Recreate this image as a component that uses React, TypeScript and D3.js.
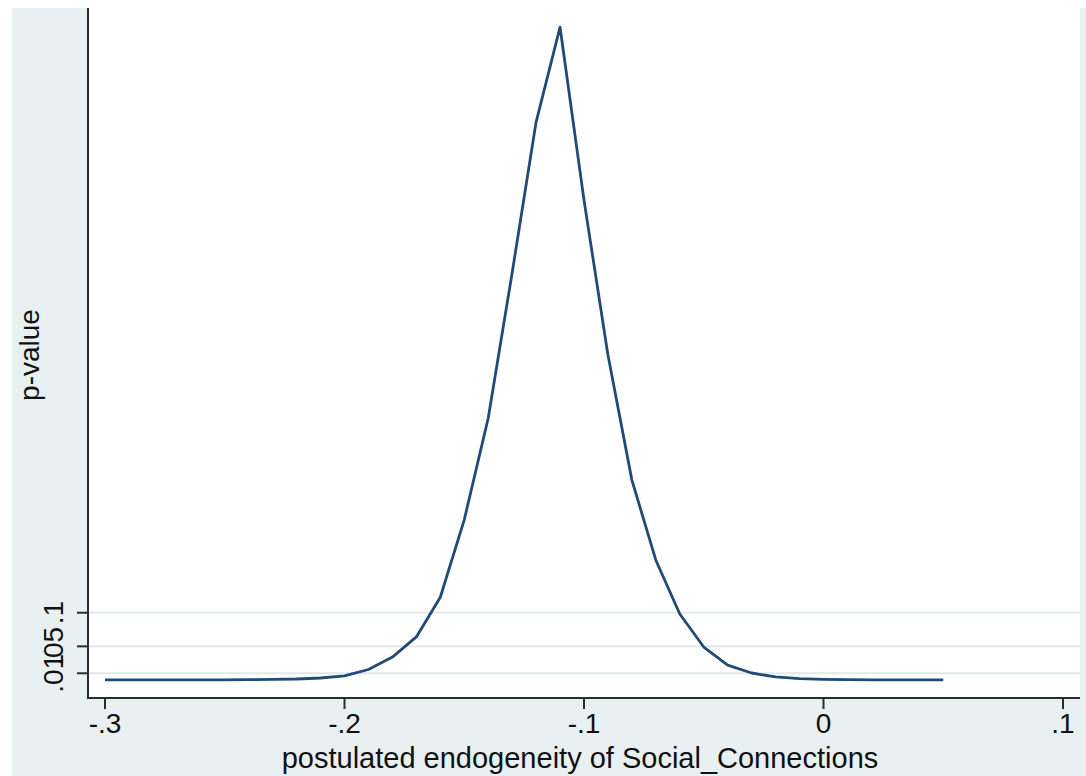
import * as d3 from 'd3';
import { useEffect, useRef } from 'react';

// postulated endogeneity grid (step .01) and the p-value
const endogeneity = [
  -0.3, -0.29, -0.28, -0.27, -0.26, -0.25, -0.24, -0.23, -0.22, -0.21,
  -0.2, -0.19, -0.18, -0.17, -0.16, -0.15, -0.14, -0.13, -0.12, -0.11,
  -0.1, -0.09, -0.08, -0.07, -0.06, -0.05, -0.04, -0.03, -0.02, -0.01,
  0, 0.01, 0.02, 0.03, 0.04, 0.05,
];
const pValues = [
  0.0001, 0.0001, 0.0001, 0.0002, 0.0002, 0.0003, 0.0005, 0.0008, 0.0015, 0.003,
  0.006, 0.0156, 0.034, 0.064, 0.123, 0.238, 0.389, 0.605, 0.829, 0.97,
  0.713, 0.483, 0.297, 0.178, 0.098, 0.049, 0.022, 0.0104, 0.0045, 0.002,
  0.001, 0.0005, 0.0003, 0.0002, 0.0001, 0.0001,
];

const xTicks = [-0.3, -0.2, -0.1, 0, 0.1];
const xTickLabels = ['-.3', '-.2', '-.1', '0', '.1'];
const yTicks = [0.01, 0.05, 0.1];
const yTickLabels = ['.01', '.05', '.1'];

const xTitle = 'postulated endogeneity of Social_Connections';
const yTitle = 'p-value';

export default function App() {
  const ref = useRef<SVGSVGElement>(null);

  useEffect(() => {
    const width = 1086;
    const height = 776;
    const svg = d3.select(ref.current);
    svg.selectAll('*').remove();
    svg.attr('width', width).attr('height', height);

    const font = '"Liberation Sans", Arial, sans-serif';
    const bg = '#e8f0f2';
    const plot = { left: 88, right: 1080, top: 8, bottom: 698 };

    const x = d3.scaleLinear().domain([-0.3, 0.1]).range([105, 1063]);
    const y = d3.scaleLinear().domain([0, 1]).range([680, 7]);

    svg.append('rect')
      .attr('x', 12).attr('y', 8)
      .attr('width', width - 12).attr('height', height - 8)
      .attr('fill', bg);

    svg.append('rect')
      .attr('x', plot.left).attr('y', plot.top)
      .attr('width', plot.right - plot.left).attr('height', plot.bottom - plot.top)
      .attr('fill', '#ffffff');

    // grid lines
    svg.append('g')
      .selectAll('line')
      .data(yTicks)
      .join('line')
      .attr('x1', plot.left).attr('x2', plot.right)
      .attr('y1', (d) => y(d)).attr('y2', (d) => y(d))
      .attr('stroke', '#e0eaed')
      .attr('stroke-width', 2);

    const line = d3.line<number>()
      .x((_, i) => x(endogeneity[i]))
      .y((d) => y(d));

    svg.append('path')
      .datum(pValues)
      .attr('d', line)
      .attr('fill', 'none')
      .attr('stroke', '#1f4b76')
      .attr('stroke-width', 2.8)
      .attr('stroke-linejoin', 'round');

    // axes
    const axisColor = '#2b2b2b';
    svg.append('line')
      .attr('x1', plot.left).attr('x2', plot.left)
      .attr('y1', plot.top).attr('y2', plot.bottom)
      .attr('stroke', axisColor).attr('stroke-width', 2);
    svg.append('line')
      .attr('x1', plot.left - 1).attr('x2', plot.right)
      .attr('y1', plot.bottom).attr('y2', plot.bottom)
      .attr('stroke', axisColor).attr('stroke-width', 2);

    svg.append('g')
      .selectAll('line')
      .data(xTicks)
      .join('line')
      .attr('x1', (d) => x(d)).attr('x2', (d) => x(d))
      .attr('y1', plot.bottom).attr('y2', plot.bottom + 11)
      .attr('stroke', axisColor).attr('stroke-width', 2);

    svg.append('g')
      .selectAll('text')
      .data(xTicks)
      .join('text')
      .attr('x', (d) => x(d))
      .attr('y', 733)
      .attr('text-anchor', 'middle')
      .style('font-family', font)
      .style('font-size', '28px')
      .style('fill', '#111')
      .text((_, i) => xTickLabels[i]);

    svg.append('g')
      .selectAll('line')
      .data(yTicks)
      .join('line')
      .attr('x1', plot.left - 11).attr('x2', plot.left)
      .attr('y1', (d) => y(d)).attr('y2', (d) => y(d))
      .attr('stroke', axisColor).attr('stroke-width', 2);

    svg.append('g')
      .selectAll('text')
      .data(yTicks)
      .join('text')
      .attr('transform', (d) => `translate(63,${y(d)}) rotate(-90)`)
      .attr('text-anchor', 'middle')
      .style('font-family', font)
      .style('font-size', '28px')
      .style('fill', '#111')
      .text((_, i) => yTickLabels[i]);

    svg.append('text')
      .attr('x', 580)
      .attr('y', 768)
      .attr('text-anchor', 'middle')
      .style('font-family', font)
      .style('font-size', '29px')
      .style('fill', '#111')
      .text(xTitle);

    svg.append('text')
      .attr('transform', `translate(39,${(plot.top + plot.bottom) / 2 + 2}) rotate(-90)`)
      .attr('text-anchor', 'middle')
      .style('font-family', font)
      .style('font-size', '28px')
      .style('fill', '#111')
      .text(yTitle);
  }, []);

  return (
    <svg
      ref={ref}
      style={{ position: 'absolute', left: 0, top: 0, display: 'block' }}
      role="img"
      aria-label="p-value by postulated endogeneity"
    />
  );
}
